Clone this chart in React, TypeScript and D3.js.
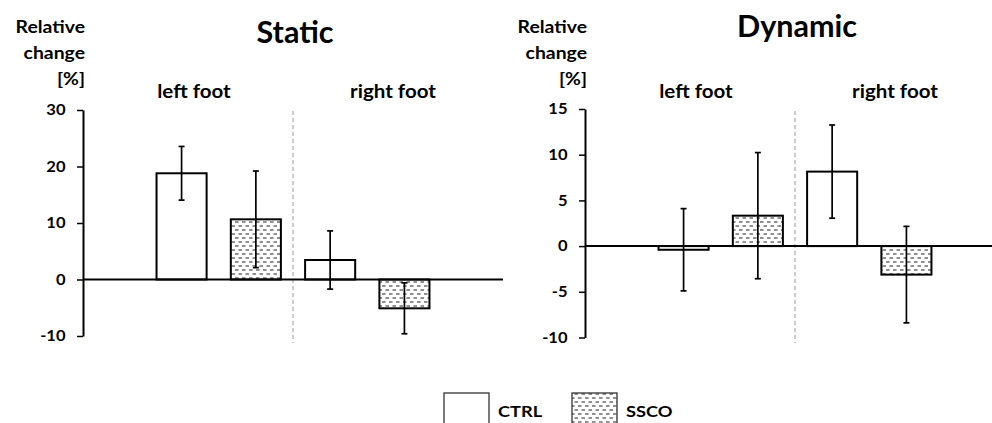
import React, { useEffect, useRef } from "react";
import * as d3 from "d3";

const groups = ["left foot", "right foot"];
const series = ["CTRL", "SSCO"];

const staticCtrl = [18.8, 3.45];
const staticCtrlErr = [4.75, 5.15];
const staticSsco = [10.65, -5.1];
const staticSscoErr = [8.55, 4.5];
const staticTicks = [-10, 0, 10, 20, 30];

const dynamicCtrl = [-0.4, 8.15];
const dynamicCtrlErr = [4.5, 5.1];
const dynamicSsco = [3.33, -3.12];
const dynamicSscoErr = [6.9, 5.28];
const dynamicTicks = [-10, -5, 0, 5, 10, 15];

const FONT = "Lato, 'Open Sans', sans-serif";
// reference text is a bit wider than Lato, stretch small labels
const STRETCH = 1.14;

const panels = [
  {
    title: "Static",
    ctrl: staticCtrl,
    ctrlErr: staticCtrlErr,
    ssco: staticSsco,
    sscoErr: staticSscoErr,
    ticks: staticTicks,
    left: 83,
    top: 110,
    bottom: 336,
    titleY: 43,
  },
  {
    title: "Dynamic",
    ctrl: dynamicCtrl,
    ctrlErr: dynamicCtrlErr,
    ssco: dynamicSsco,
    sscoErr: dynamicSscoErr,
    ticks: dynamicTicks,
    left: 585,
    top: 109,
    bottom: 337.5,
    titleY: 37,
  },
];

const label = (sel, x, y, txt, size, anchor = "middle") =>
  sel
    .append("text")
    .attr("transform", `translate(${x},${y}) scale(${STRETCH},1)`)
    .attr("text-anchor", anchor)
    .attr("font-family", FONT)
    .attr("font-weight", 700)
    .attr("font-size", size)
    .attr("fill", "#000")
    .text(txt);

const App = () => {
  const svgRef = useRef(null);

  useEffect(() => {
    const svg = d3.select(svgRef.current);
    svg.selectAll("*").remove();

    const defs = svg.append("defs");
    const pat = defs
      .append("pattern")
      .attr("id", "dashfill")
      .attr("patternUnits", "userSpaceOnUse")
      .attr("width", 7)
      .attr("height", 8);
    pat.append("rect").attr("width", 7).attr("height", 8).attr("fill", "#fff");
    [
      [0.5, 4, 2],
      [4, 7.5, 6],
      [-3, 0.5, 6],
    ].forEach(([x1, x2, yy]) => {
      pat
        .append("line")
        .attr("x1", x1)
        .attr("x2", x2)
        .attr("y1", yy)
        .attr("y2", yy)
        .attr("stroke", "#555")
        .attr("stroke-width", 1.3);
    });

    panels.forEach((p) => {
      const plotW = 420;
      const keys = groups.flatMap((g) => series.map((s) => `${g}|${s}`));
      const values = [p.ctrl[0], p.ssco[0], p.ctrl[1], p.ssco[1]];
      const errs = [p.ctrlErr[0], p.sscoErr[0], p.ctrlErr[1], p.sscoErr[1]];

      const x = d3
        .scaleBand()
        .domain(keys)
        .range([p.left, p.left + plotW])
        .paddingInner(0.326)
        .paddingOuter(0.99);
      const y = d3
        .scaleLinear()
        .domain([p.ticks[0], p.ticks[p.ticks.length - 1]])
        .range([p.bottom, p.top]);

      const g = svg.append("g");

      // title
      g.append("text")
        .attr("x", p.left + 212)
        .attr("y", p.titleY)
        .attr("text-anchor", "middle")
        .attr("font-family", FONT)
        .attr("font-weight", 700)
        .attr("font-size", 30.5)
        .text(p.title);

      // y axis title
      ["Relative", "change", "[%]"].forEach((t, i) => {
        label(g, p.left + 2, 32.5 + i * 26, t, 17, "end");
      });

      const divider = (x(keys[1]) + x.bandwidth() + x(keys[2])) / 2;

      // group labels
      const labelX = [(p.left + divider) / 2 + 6, (divider + p.left + plotW) / 2 - 5];
      groups.forEach((gr, i) => label(g, labelX[i], 97.5, gr, 18));

      // divider
      g.append("line")
        .attr("x1", divider)
        .attr("x2", divider)
        .attr("y1", 111)
        .attr("y2", 343)
        .attr("stroke", "#9a9a9a")
        .attr("stroke-width", 1)
        .attr("stroke-dasharray", "4,3");

      // bars
      keys.forEach((k, i) => {
        const v = values[i];
        const isSsco = k.endsWith("SSCO");
        g.append("rect")
          .attr("x", x(k))
          .attr("y", y(Math.max(v, 0)))
          .attr("width", x.bandwidth())
          .attr("height", Math.abs(y(v) - y(0)))
          .attr("fill", isSsco ? "url(#dashfill)" : "#fff")
          .attr("stroke", "#000")
          .attr("stroke-width", 2);
      });

      // zero line
      g.append("line")
        .attr("x1", p.left)
        .attr("x2", p.left + plotW)
        .attr("y1", y(0))
        .attr("y2", y(0))
        .attr("stroke", "#000")
        .attr("stroke-width", 2);

      // error bars
      keys.forEach((k, i) => {
        const cx = x(k) + x.bandwidth() / 2;
        const hi = y(values[i] + errs[i]);
        const lo = y(values[i] - errs[i]);
        g.append("line")
          .attr("x1", cx)
          .attr("x2", cx)
          .attr("y1", hi)
          .attr("y2", lo)
          .attr("stroke", "#000")
          .attr("stroke-width", 1.7);
        [hi, lo].forEach((yy) => {
          g.append("line")
            .attr("x1", cx - 3)
            .attr("x2", cx + 3)
            .attr("y1", yy)
            .attr("y2", yy)
            .attr("stroke", "#000")
            .attr("stroke-width", 1.7);
        });
      });

      // y axis
      const axis = g
        .append("g")
        .attr("transform", `translate(${p.left},0)`)
        .call(
          d3
            .axisLeft(y)
            .tickValues(p.ticks)
            .tickSize(6)
            .tickSizeOuter(0)
            .tickFormat((d) => String(d))
        );
      axis.select(".domain").attr("stroke", "#000").attr("stroke-width", 2);
      axis.selectAll(".tick line").attr("stroke", "#000").attr("stroke-width", 1.5);
      axis
        .selectAll(".tick text")
        .attr("x", -17.5 / STRETCH)
        .attr("transform", `scale(${STRETCH},1)`)
        .attr("font-family", FONT)
        .attr("font-weight", 700)
        .attr("font-size", 14.5)
        .attr("fill", "#000");
    });

    // legend
    const legend = svg.append("g");
    const legendX = [444, 572];
    series.forEach((s, i) => {
      legend
        .append("rect")
        .attr("x", legendX[i])
        .attr("y", 393)
        .attr("width", 45)
        .attr("height", 40)
        .attr("fill", s === "SSCO" ? "url(#dashfill)" : "#fff")
        .attr("stroke", "#333")
        .attr("stroke-width", 1.3);
      label(legend, legendX[i] + 54, 416.5, s, 16, "start");
    });
  }, []);

  return (
    <svg
      ref={svgRef}
      width={992}
      height={423}
      style={{ position: "absolute", left: 0, top: 0, background: "#fff" }}
    ></svg>
  );
};

export default App;
